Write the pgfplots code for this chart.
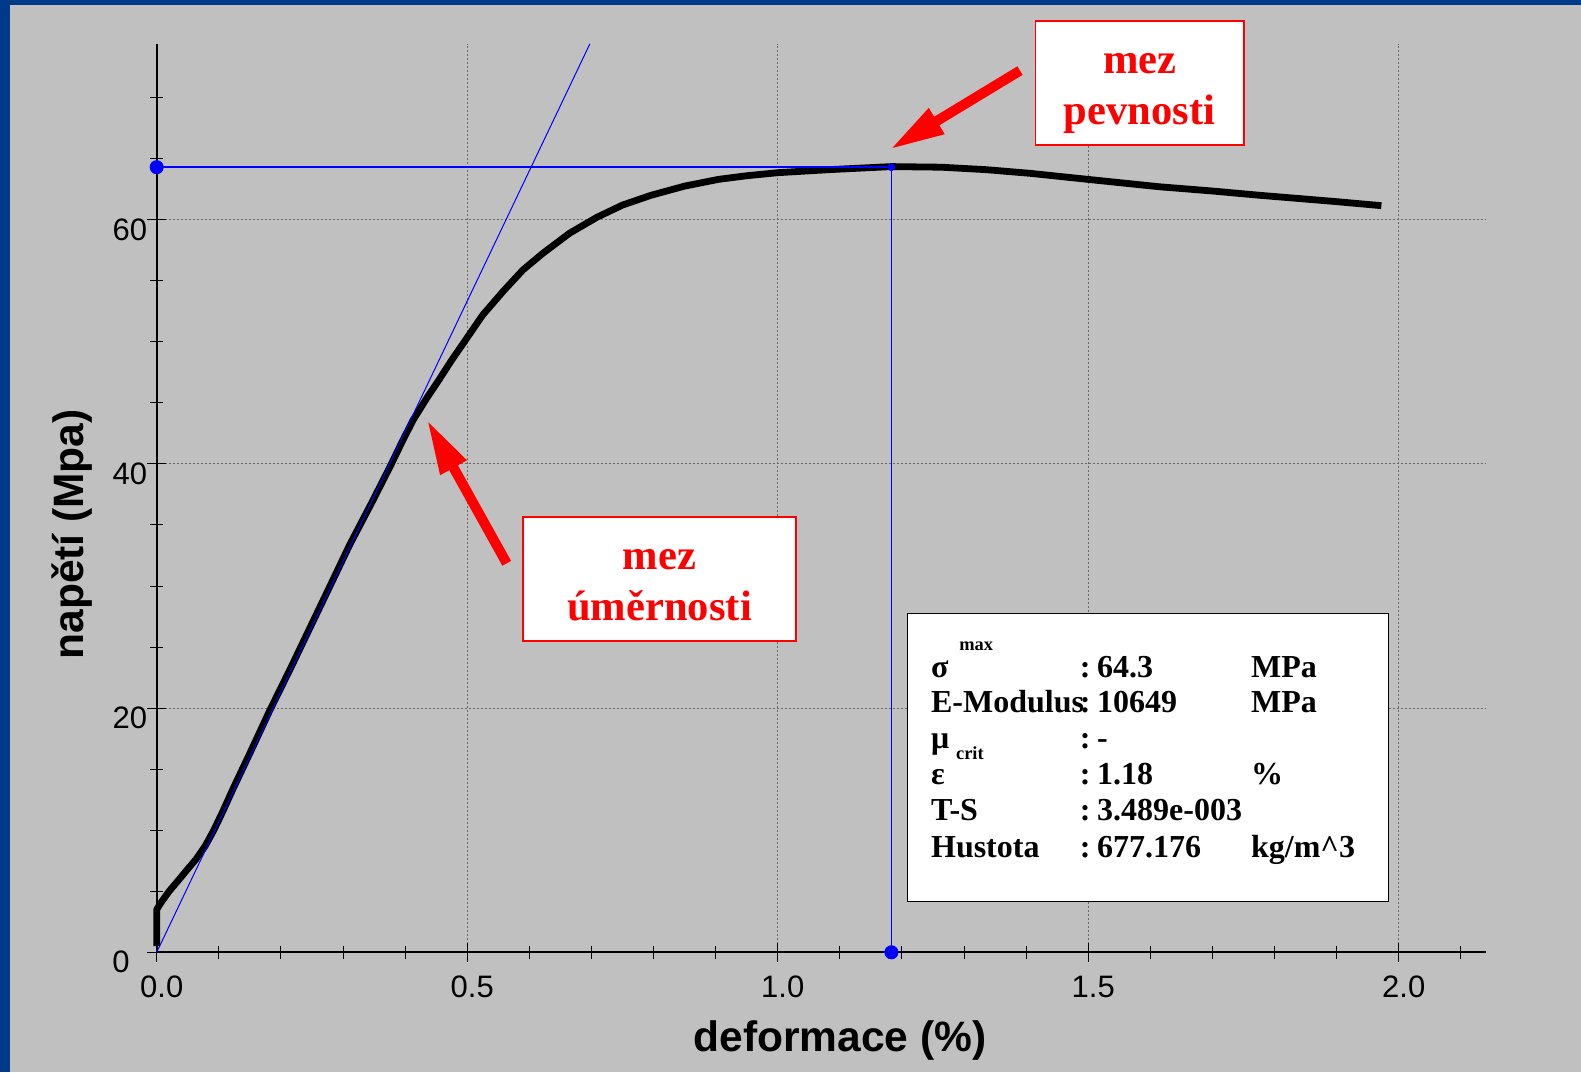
\documentclass[border=0pt]{standalone}
\usepackage{pgfplots}
\pgfplotsset{compat=1.18}
\usepackage{fontspec}
\setmainfont{Liberation Sans}
\newfontfamily\tnr{Liberation Serif}
\usetikzlibrary{calc}
\definecolor{bgray}{RGB}{192,192,192}
\definecolor{frameblue}{RGB}{0,57,138}
\definecolor{gridgray}{RGB}{105,105,105}
\newcommand{\redarrow}[2]{%
  \coordinate (S) at (#1); \coordinate (T) at (#2);
  \coordinate (B) at ($(T)!26pt!(S)$);
  \fill[red] ($(S)!2.5pt!90:(T)$) -- ($(B)!2.5pt!-90:(S)$) -- ($(B)!7.7pt!-90:(S)$) -- (T)
     -- ($(B)!7.7pt!90:(S)$) -- ($(B)!2.5pt!90:(S)$) -- ($(S)!2.5pt!-90:(T)$) -- cycle;}
\begin{document}
\begin{tikzpicture}
\useasboundingbox (0,0) rectangle (790.5pt,536pt);
\fill[frameblue] (0,0) rectangle (790.5pt,536pt);
\fill[bgray] (5pt,0) rectangle (790.5pt,533.5pt);
\begin{axis}[
  at={(78.35pt,59.85pt)}, anchor=south west,
  scale only axis, width=664.5pt, height=454.2pt,
  xmin=0, xmax=2.14, ymin=0, ymax=74.4,
  axis lines=left, axis line style={-, line width=0.8pt},
  xtick={0,0.5,1,1.5,2}, ytick={0,20,40,60},
  minor xtick={0.1,0.2,0.3,0.4,0.6,0.7,0.8,0.9,1.1,1.2,1.3,1.4,1.6,1.7,1.8,1.9,2.1},
  minor ytick={5,10,15,25,30,35,45,50,55,65,70},
  tick align=center, major tick length=9.25pt, minor tick length=6.5pt,
  tick style={black, line width=0.5pt},
  xticklabels={0.0,0.5,1.0,1.5,2.0},
  yticklabels={0\hspace*{8.7pt},20,40,60},
  grid=major, major grid style={gridgray, line width=0.5pt, dash pattern=on 1pt off 1pt},
  ticklabel style={font=\fontsize{15.5}{18}\selectfont, inner sep=0pt},
  xticklabel style={anchor=north, xshift=2.5pt, yshift=-7pt},
  yticklabel style={anchor=east, yshift=-4.85pt},
  /pgf/number format/assume math mode=true,
  clip=false,
]
\addplot[black, line width=3.4pt, line join=round] coordinates {
(0,0.5) (0,3.5) (0.006,4.0) (0.02,5.0) (0.035,5.9) (0.048,6.7) (0.063,7.6) (0.078,8.7)
(0.092,10.0) (0.107,11.6) (0.123,13.4) (0.15,16.3) (0.182,19.8)
(0.215,23.2) (0.247,26.6) (0.28,30.1) (0.311,33.4) (0.345,36.7) (0.376,39.8)
(0.395,41.8) (0.413,43.6) (0.435,45.4) (0.456,47.0) (0.475,48.5) (0.494,49.9)
(0.525,52.2) (0.559,54.2) (0.59,55.9) (0.623,57.3) (0.665,58.9) (0.709,60.2) (0.75,61.2)
(0.796,62.0) (0.85,62.75) (0.904,63.3) (0.95,63.6) (1.0,63.85) (1.083,64.1) (1.183,64.35)
(1.263,64.3) (1.335,64.1) (1.406,63.8) (1.5,63.3) (1.614,62.7) (1.7,62.35) (1.776,62.0)
(1.895,61.5) (1.972,61.15)};
\addplot[blue, line width=0.5pt] coordinates {(0,0) (0.6975,74.4)};
\addplot[blue, line width=0.8pt] coordinates {(0,64.3) (1.183,64.3) (1.183,0)};
\addplot[only marks, mark=*, mark size=3.3pt, blue, mark options={draw=blue, fill=blue}] coordinates {(0,64.3) (1.183,0)};
\addplot[only marks, mark=*, mark size=1.7pt, blue, mark options={draw=blue, fill=blue}] coordinates {(1.183,64.3)};
\end{axis}
% axis labels
\node[anchor=base, inner sep=0pt, font=\fontsize{21.25}{24}\selectfont\bfseries] at (420pt,10.15pt) {deformace (\%)};
\node[anchor=center, rotate=90, inner sep=0pt, font=\fontsize{21.25}{24}\selectfont\bfseries] at (36pt,268.8pt) {napětí (Mpa)};
% annotation boxes
\draw[red, line width=0.85pt, fill=white] (517.8pt,463.35pt) rectangle (621.9pt,525.65pt);
\node[anchor=base, inner sep=0pt, text=red, font=\fontsize{21.3}{24}\tnr\bfseries] at (569.85pt,499pt) {mez};
\node[anchor=base, inner sep=0pt, text=red, font=\fontsize{21.3}{24}\tnr\bfseries] at (569.85pt,473.5pt) {pevnosti};
\draw[red, line width=0.85pt, fill=white] (261.65pt,215.65pt) rectangle (398pt,277.35pt);
\node[anchor=base, inner sep=0pt, text=red, font=\fontsize{21.3}{24}\tnr\bfseries] at (329.8pt,251pt) {mez};
\node[anchor=base, inner sep=0pt, text=red, font=\fontsize{21.3}{24}\tnr\bfseries] at (329.8pt,225.65pt) {úměrnosti};
\redarrow{253.35pt,254.35pt}{214.15pt,324.85pt}
\redarrow{510pt,500.7pt}{446.15pt,462pt}
% info box
\draw[black, line width=0.6pt, fill=white] (453.65pt,85.15pt) rectangle (694.15pt,229.35pt);
\begin{scope}[every node/.style={anchor=base west, inner sep=0pt, font=\fontsize{16}{19}\tnr\bfseries}]
\node at (465.35pt,197.35pt) {σ};
\node[font=\fontsize{9.2}{11}\tnr\bfseries] at (479.5pt,210.65pt) {max};
\node at (539.7pt,197.35pt) {:};
\node at (548.4pt,197.35pt) {64.3};
\node at (625.35pt,197.35pt) {MPa};
\node at (465.35pt,179.65pt) {E-Modulus};
\node at (539.7pt,179.65pt) {:};
\node at (548.4pt,179.65pt) {10649};
\node at (625.35pt,179.65pt) {MPa};
\node at (465.35pt,161.85pt) {μ};
\node[font=\fontsize{9.2}{11}\tnr\bfseries] at (477.85pt,156pt) {crit};
\node at (539.7pt,161.85pt) {:};
\node at (548.4pt,161.85pt) {-};
\node at (465.35pt,143.5pt) {ε};
\node at (539.7pt,143.5pt) {:};
\node at (548.4pt,143.5pt) {1.18};
\node at (625.35pt,143.5pt) {\%};
\node at (465.35pt,125.5pt) {T-S};
\node at (539.7pt,125.5pt) {:};
\node at (548.4pt,125.5pt) {3.489e-003};
\node at (465.35pt,107.35pt) {Hustota};
\node at (539.7pt,107.35pt) {:};
\node at (548.4pt,107.35pt) {677.176};
\node at (625.35pt,107.35pt) {kg/m\^{}3};
\end{scope}
\end{tikzpicture}
\end{document}
